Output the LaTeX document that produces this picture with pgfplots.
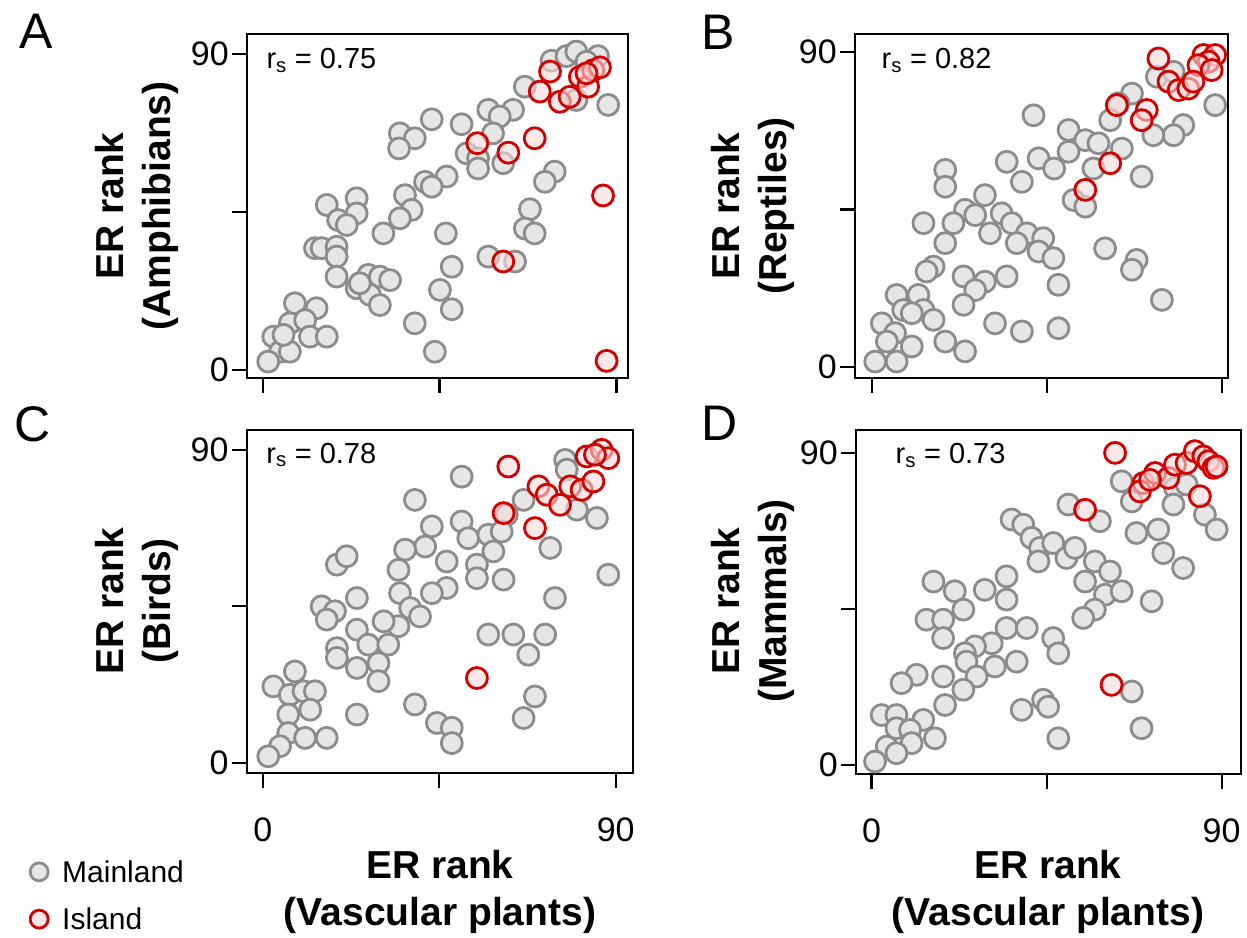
\documentclass[border=0pt]{standalone}
\usepackage{fontspec}
\setmainfont{Liberation Sans}
\usepackage{pgfplots}
\pgfplotsset{compat=1.18}
\definecolor{mgray}{HTML}{8C8C8C}
\definecolor{mfill}{HTML}{E6E6E6}
\definecolor{ired}{HTML}{D40000}
\pgfplotsset{
  ml/.style={only marks, mark=*, mark size=10.5pt, mark options={draw=mgray, fill=mfill, line width=2.8pt}},
  il/.style={only marks, mark=*, mark size=10.5pt, mark options={draw=ired, fill=ired!15, fill opacity=0.6, line width=2.8pt}},
  panel/.style={scale only axis, clip=false,
    axis line style={line width=2.2pt},
    every tick/.style={line width=2.2pt, black},
    major tick length=15pt, tick align=outside, tick pos=left,
    xtick={0,45,90}, ytick={0,45,90}, yticklabels={0,,90}, xticklabels={},
    ticklabel style={font=\fontsize{34}{40}\selectfont, inner sep=3pt},
    xticklabel style={yshift=-27pt},
  },
}
\newcommand{\rs}[1]{\fontsize{29}{34}\selectfont r\textsubscript{s} = #1}
\begin{document}
\begin{tikzpicture}[x=1pt,y=1pt]
\useasboundingbox (0,0) rectangle (1247,937);
% ---------------- A ----------------
\begin{axis}[panel, at={(247pt,559pt)}, anchor=south west, width=381pt, height=344pt,
  xmin=-4.0, xmax=92.95, ymin=-2.28, ymax=95.7]
\addplot[ml] coordinates {
(73.5,88.1)(77.3,89.4)(79.8,90.7)(85.3,89.4)(82.4,87.8)(66.7,80.7)(79.8,76.9)(87.9,75.5)
(57.4,74.1)(63.7,74.1)(60.3,72.2)(43.0,71.4)(50.6,70.0)(58.6,67.4)(34.9,67.4)(38.7,66.0)
(34.7,63.1)(51.9,61.7)(54.8,60.3)(54.8,57.4)(61.2,58.9)(74.3,56.5)(71.8,53.6)(46.8,55.1)
(41.3,53.6)(43.0,52.2)(36.2,49.8)(37.9,45.6)(34.9,43.2)(30.7,38.9)(16.3,47.0)(23.9,48.9)
(23.9,44.6)(19.2,42.7)(21.4,41.3)(68.0,45.8)(66.7,40.3)(69.2,38.9)(46.6,38.9)(13.3,34.7)
(15.0,34.7)(18.8,35.1)(18.8,32.3)(57.4,32.3)(64.2,30.9)(48.1,29.4)(18.8,26.6)(23.9,23.3)
(26.9,27.1)(29.8,26.6)(32.4,25.6)(27.3,21.4)(29.8,18.5)(45.1,22.8)(48.1,17.3)(8.2,19.0)
(13.7,17.6)(6.9,13.3)(10.8,14.2)(2.7,9.5)(12.0,9.5)(16.3,9.5)(4.4,5.2)(6.9,5.2)(1.4,2.4)
(38.7,13.3)(43.8,5.2)(5.3,10.0)(24.7,24.7)
};
\addplot[il] coordinates {
(73.1,85.0)(70.5,79.3)(75.6,76.4)(78.1,77.8)(80.7,83.5)(82.8,80.7)(84.1,85.4)(85.8,86.2)
(82.4,84.5)(54.6,64.6)(62.5,61.9)(69.2,66.0)(86.6,49.7)(61.2,30.9)(87.5,2.6)
};
\node[anchor=west] at (rel axis cs:0.042,0.924) {\rs{0.75}};
\end{axis}
% ---------------- B ----------------
\begin{axis}[panel, at={(855pt,559pt)}, anchor=south west, width=373pt, height=344pt,
  xmin=-4.3, xmax=91.6, ymin=-3.1, ymax=95.1]
\addplot[ml] coordinates {
(73.3,82.9)(77.6,84.3)(66.9,78.1)(63.4,75.3)(61.3,70.5)(88.3,74.8)(80.1,69.1)(77.6,66.2)
(72.4,66.2)(41.6,71.9)(50.6,67.7)(54.9,64.8)(58.3,63.9)(64.3,62.4)(50.6,61.5)(42.9,59.6)
(46.9,56.7)(34.7,58.6)(38.6,52.9)(57.0,56.7)(69.4,54.4)(18.9,56.3)(18.9,51.5)(51.9,47.7)
(54.9,45.8)(29.1,49.1)(24.0,44.9)(26.6,43.4)(33.4,43.9)(36.0,41.1)(13.3,41.1)(21.0,41.1)
(30.4,38.2)(39.9,38.2)(44.1,36.8)(37.3,35.4)(42.9,33.0)(46.7,31.1)(18.9,35.4)(15.9,28.7)
(14.1,27.3)(23.6,25.9)(29.1,24.4)(34.7,25.9)(26.6,22.0)(23.6,17.8)(48.0,23.5)(60.0,33.9)
(68.1,30.6)(66.9,27.8)(74.6,19.2)(6.4,20.6)(12.0,20.6)(8.1,16.3)(13.3,16.3)(15.9,13.5)
(2.6,12.5)(6.0,9.7)(3.9,7.3)(10.3,5.9)(0.9,1.6)(6.4,1.6)(18.9,7.3)(24.0,4.5)(31.7,12.5)
(38.6,10.2)(48.0,11.1)(10.3,15.4)
};
\addplot[il] coordinates {
(73.7,88.1)(85.3,89.1)(88.3,89.1)(86.6,87.2)(84.0,86.2)(87.4,84.8)(76.3,81.5)(78.9,79.1)
(81.4,79.5)(82.7,81.5)(63.0,74.8)(70.7,73.4)(69.4,70.5)(61.3,58.2)(54.9,50.6)
};
\node[anchor=west] at (rel axis cs:0.062,0.924) {\rs{0.82}};
\end{axis}
% ---------------- C ----------------
\begin{axis}[panel, at={(246.7pt,164pt)}, anchor=south west, width=386.3pt, height=343pt,
  xmin=-4.1, xmax=94.4, ymin=-2.9, ymax=95.7, xticklabels={0,,90},
  legend style={at={(rel axis cs:-0.561,-0.248)}, anchor=north west, draw=none, fill=none,
    font=\fontsize{30}{34}\selectfont, row sep=20pt, inner sep=0pt,
    nodes={inner sep=2pt}},
  legend image code/.code={\path[draw=none, fill=none] (0pt,-1pt) rectangle (30pt,1pt); \draw[#1, mark size=9pt] plot coordinates {(9pt,0pt)};},
  legend cell align=left]
\addplot[ml] coordinates {
(77.1,87.1)(77.5,84.3)(50.7,82.3)(38.8,75.6)(66.5,75.6)(62.2,71.3)(80.1,72.8)(85.2,70.4)
(43.1,68.0)(50.7,69.4)(52.4,64.6)(57.5,65.6)(58.8,60.8)(60.9,66.5)(41.4,62.2)(36.3,61.3)
(34.6,55.5)(46.9,57.9)(54.6,57.0)(54.6,53.1)(61.4,52.7)(73.3,61.8)(88.1,54.1)(18.9,57.0)
(21.4,59.4)(46.9,50.3)(43.1,48.8)(35.0,48.8)(24.0,47.4)(74.5,47.4)(15.0,45.0)(18.4,43.6)
(16.3,41.2)(37.6,44.5)(40.1,42.1)(34.6,39.3)(30.8,40.7)(24.0,38.3)(26.9,34.0)(32.0,34.0)
(18.9,33.0)(18.9,30.2)(24.0,27.3)(29.5,28.7)(29.5,23.5)(57.5,36.9)(63.9,36.9)(72.0,36.9)
(67.7,31.1)(8.2,26.3)(2.7,22.0)(6.9,19.6)(10.4,20.6)(13.3,20.6)(12.1,15.3)(6.5,13.9)
(6.5,8.6)(10.8,7.2)(16.3,7.2)(4.4,4.8)(1.4,1.9)(24.0,13.9)(38.8,16.8)(44.4,11.5)(48.2,10.1)
(48.2,5.7)(69.4,19.1)(66.5,12.9)
};
\addlegendentry{Mainland}
\addplot[il] coordinates {
(62.6,85.2)(82.6,88.1)(86.4,90.0)(88.1,87.6)(84.7,88.6)(70.3,79.5)(72.4,77.1)(75.8,74.2)
(78.4,79.5)(81.3,78.5)(84.3,80.9)(61.4,71.8)(69.4,67.5)(54.6,24.4)
};
\addlegendentry{Island}
\node[anchor=west] at (rel axis cs:0.042,0.927) {\rs{0.78}};
\end{axis}
% ---------------- D ----------------
\begin{axis}[panel, at={(856pt,163pt)}, anchor=south west, width=384.7pt, height=344pt,
  xmin=-4.0, xmax=94.9, ymin=-2.6, ymax=96.6, xticklabels={0,,90}]
\addplot[ml] coordinates {
(64.3,81.8)(66.9,76.0)(78.0,79.9)(77.6,75.1)(81.0,80.9)(85.7,72.2)(88.7,67.9)(50.6,75.1)
(58.7,70.3)(68.1,66.9)(73.7,67.9)(75.0,61.1)(80.1,56.8)(36.0,70.8)(39.0,69.3)(41.1,65.5)
(43.3,62.6)(42.9,58.7)(46.7,64.0)(50.1,59.7)(52.3,62.6)(57.4,58.7)(61.3,55.8)(54.9,52.9)
(60.0,49.1)(64.3,50.1)(57.4,44.8)(54.4,42.4)(72.0,47.2)(15.9,52.9)(21.4,50.1)(29.1,50.5)
(34.7,54.4)(34.7,47.7)(23.6,44.8)(14.1,41.9)(18.4,41.9)(18.4,36.6)(34.7,39.5)(39.9,39.5)
(46.7,36.6)(48.0,32.2)(30.9,35.1)(26.6,34.2)(24.0,32.2)(24.4,29.8)(31.7,28.4)(37.3,29.8)
(27.0,25.5)(23.6,21.7)(18.4,25.5)(11.6,26.0)(7.7,23.6)(18.9,17.3)(2.6,14.4)(6.4,14.4)
(13.3,13.0)(6.4,10.6)(9.9,10.1)(16.3,7.7)(10.3,6.3)(3.9,5.3)(6.4,3.4)(0.9,1.0)(38.6,15.9)
(44.1,18.8)(45.4,16.8)(48.0,7.7)(66.9,21.2)(69.4,10.6)
};
\addplot[il] coordinates {
(62.6,90.0)(69.9,81.3)(69.0,78.9)(72.9,84.2)(76.3,82.8)(78.0,86.6)(81.0,87.1)(83.1,90.5)
(85.3,89.0)(86.6,87.6)(87.9,85.7)(88.7,86.1)(84.4,77.5)(71.6,82.2)(54.9,73.6)(61.7,23.1)
};
\node[anchor=west] at (rel axis cs:0.094,0.927) {\rs{0.73}};
\end{axis}
% ---------------- labels ----------------
\tikzset{lab/.style={font=\bfseries\fontsize{39}{47}\selectfont, align=center}}
\node[lab, rotate=90] at (136.5,731) {ER rank\\(Amphibians)};
\node[lab, rotate=90] at (752.5,731) {ER rank\\(Reptiles)};
\node[lab, rotate=90] at (136.5,336) {ER rank\\(Birds)};
\node[lab, rotate=90] at (752.5,336) {ER rank\\(Mammals)};
\node[lab] at (440,45.5) {ER rank\\(Vascular plants)};
\node[lab] at (1048,45.5) {ER rank\\(Vascular plants)};
\tikzset{plet/.style={font=\fontsize{50}{60}\selectfont}}
\node[plet] at (36,906) {A};
\node[plet] at (718,905) {B};
\node[plet] at (33,513) {C};
\node[plet] at (720,514) {D};
\end{tikzpicture}
\end{document}
